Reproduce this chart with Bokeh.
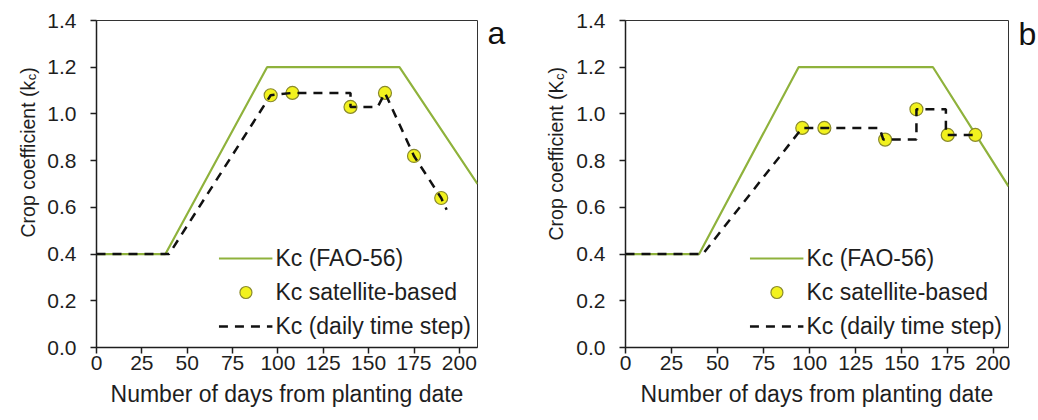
import math
from bokeh.plotting import figure
from bokeh.models import Range1d, FixedTicker, PrintfTickFormatter, Legend, LegendItem
from bokeh.core.properties import value
from bokeh.layouts import row
from bokeh.embed import file_html
from bokeh.resources import INLINE

# ---------------- data ----------------
x_ticks = [0, 25, 50, 75, 100, 125, 150, 175, 200]
y_ticks = [0.0, 0.2, 0.4, 0.6, 0.8, 1.0, 1.2, 1.4]

# panel a
fao_a_x = [0, 38, 94, 167, 210]
fao_a_y = [0.4, 0.4, 1.2, 1.2, 0.70]
sat_a_x = [96, 108, 140, 159, 175, 190]
sat_a_y = [1.08, 1.09, 1.03, 1.09, 0.82, 0.64]
daily_a_x = [0, 40, 96, 108, 140, 140, 155, 159, 175, 190, 193]
daily_a_y = [0.4, 0.4, 1.08, 1.09, 1.09, 1.03, 1.03, 1.09, 0.82, 0.64, 0.59]

# panel b
fao_b_x = [0, 40, 94, 167, 208]
fao_b_y = [0.4, 0.4, 1.2, 1.2, 0.69]
sat_b_x = [96, 108, 141, 158, 175, 190]
sat_b_y = [0.94, 0.94, 0.89, 1.02, 0.91, 0.91]
daily_b_x = [0, 42, 96, 138, 140, 158, 158, 174, 174, 190]
daily_b_y = [0.4, 0.4, 0.94, 0.94, 0.89, 0.89, 1.02, 1.02, 0.91, 0.91]

legend_labels = ["Kc (FAO-56)", "Kc satellite-based", "Kc (daily time step)"]
x_title = "Number of days from planting date"

GREEN = "#8fb23c"
FILL = "#f2f21e"
EDGE = "#8a8a2c"
FONT = "Liberation Sans"
TXT = "#1e1e1e"
H = 420


def make_panel(fx, fy, sx, sy, dx, dy, xmax, width, bl, br):
    p = figure(width=width, height=H, output_backend="svg", toolbar_location=None,
               x_range=Range1d(0, xmax), y_range=Range1d(0, 1.4),
               min_border_left=bl, min_border_right=br, min_border_top=20, min_border_bottom=73)
    p.frame_align = False
    p.grid.visible = False
    p.outline_line_color = "#333333"
    p.outline_line_width = 1
    p.background_fill_color = "white"
    p.border_fill_color = "white"

    for ax in (p.xaxis[0], p.yaxis[0]):
        ax.major_tick_in = 0
        ax.major_tick_out = 6
        ax.minor_tick_out = 0
        ax.minor_tick_in = 0
        ax.axis_line_color = TXT
        ax.axis_line_width = 1.5
        ax.major_tick_line_color = TXT
        ax.major_tick_line_width = 1.5
        ax.major_label_text_font = FONT
        ax.major_label_text_font_size = "21px"
        ax.major_label_text_color = TXT
    p.xaxis.ticker = FixedTicker(ticks=x_ticks)
    p.yaxis.ticker = FixedTicker(ticks=y_ticks)
    p.yaxis.formatter = PrintfTickFormatter(format="%.1f")
    p.xaxis.axis_label = x_title
    p.xaxis.axis_label_text_font = FONT
    p.xaxis.axis_label_text_font_size = "23px"
    p.xaxis.axis_label_text_font_style = "normal"
    p.xaxis.axis_label_text_color = TXT
    p.xaxis.major_label_standoff = 2
    p.xaxis.axis_label_standoff = 8
    p.yaxis.major_label_standoff = 14

    r_fao = p.line(fx, fy, line_color=GREEN, line_width=2.2)
    r_sat = p.scatter(sx, sy, marker="circle", size=13, fill_color=FILL,
                      line_color=EDGE, line_width=1.2)
    r_day = p.line(dx, dy, line_color="#111111", line_width=2.5, line_dash="9 7")

    leg = Legend(items=[
        LegendItem(label=legend_labels[0], renderers=[r_fao]),
        LegendItem(label=legend_labels[1], renderers=[r_sat]),
        LegendItem(label=legend_labels[2], renderers=[r_day]),
    ], location="bottom_right")
    leg.label_text_font = FONT
    leg.label_text_font_size = "23px"
    leg.label_text_color = TXT
    leg.glyph_width = 54
    leg.glyph_height = 30
    leg.label_height = 30
    leg.spacing = 4
    leg.padding = 1
    leg.margin = 6
    leg.label_standoff = 3
    leg.border_line_color = None
    leg.background_fill_alpha = 0
    p.add_layout(leg)
    return p


def blank(x0, x1):
    """Narrow helper canvas (page-pixel coordinates) for texts beside the plot frames."""
    p = figure(width=x1 - x0, height=H, output_backend="svg", toolbar_location=None,
               x_range=Range1d(x0, x1), y_range=Range1d(0, H),
               x_axis_location=None, y_axis_location=None, min_border=0)
    p.frame_align = False
    p.grid.visible = False
    p.outline_line_color = None
    p.background_fill_color = "white"
    p.border_fill_color = "white"
    return p


def ylabel_fig(x0, x1, base_x, start_y, kletter, size=19.5):
    p = blank(x0, x1)
    main = "Crop coefficient (" + kletter
    em_main = 8.058 if kletter == "k" else 8.225
    w_main = em_main * size
    yb = H - start_y
    common = dict(angle=math.pi / 2, text_font=value(FONT), text_color=TXT,
                  text_align="left", text_baseline="alphabetic")
    p.text(x=[base_x], y=[yb], text=[main], text_font_size="%.1fpx" % size, **common)
    p.text(x=[base_x + 4], y=[yb + w_main], text=["c"], text_font_size="13px", **common)
    p.text(x=[base_x], y=[yb + w_main + 6.5], text=[")"], text_font_size="%.1fpx" % size, **common)
    return p


def letter_fig(x0, x1, tx, base_y, letter):
    p = blank(x0, x1)
    p.text(x=[tx], y=[H - base_y], text=[letter], text_font=value(FONT), text_font_size="32px",
           text_color="#111111", text_align="left", text_baseline="alphabetic")
    return p


ya = ylabel_fig(0, 42, 27, 237, "k")
pa = make_panel(fao_a_x, fao_a_y, sat_a_x, sat_a_y, daily_a_x, daily_a_y, 210, 440, 54, 5)
la = letter_fig(482, 520, 487, 32, "a")
yb = ylabel_fig(520, 572, 555, 240, "K")
pb = make_panel(fao_b_x, fao_b_y, sat_b_x, sat_b_y, daily_b_x, daily_b_y, 208, 438, 53, 2)
lb = letter_fig(1010, 1038, 1018, 33, "b")

layout = row(ya, pa, la, yb, pb, lb)
open("out.html", "w").write(file_html(layout, INLINE))
